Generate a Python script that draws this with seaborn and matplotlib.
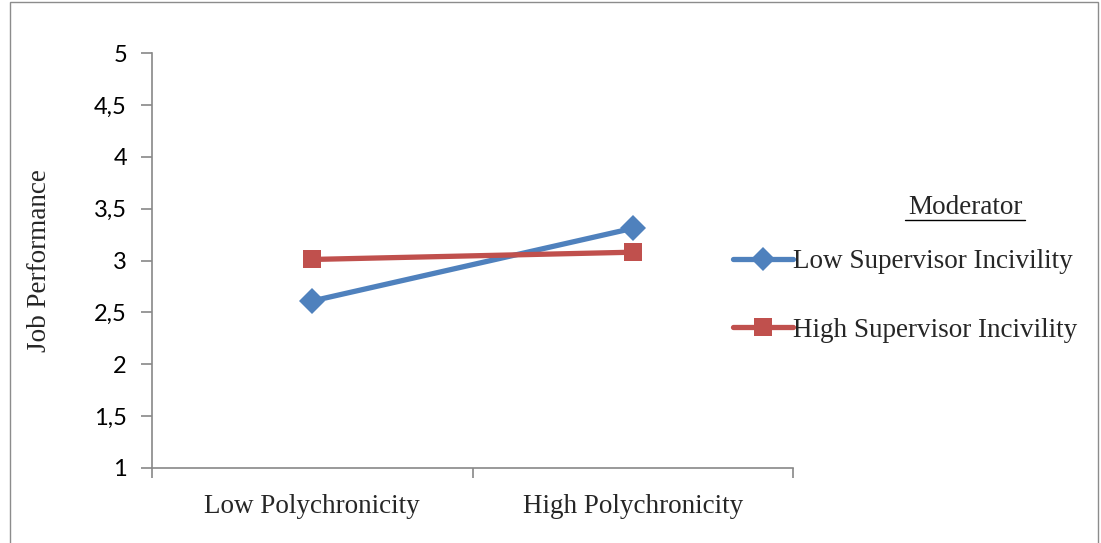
import matplotlib
matplotlib.use("Agg")
import matplotlib.pyplot as plt
import seaborn as sns
import pandas as pd
from matplotlib.lines import Line2D
from matplotlib.patches import Rectangle
from matplotlib.ticker import FixedLocator

categories = ["Low Polychronicity", "High Polychronicity"]
low_incivility = [2.61, 3.31]
high_incivility = [3.01, 3.08]
series_names = ["Low Supervisor Incivility", "High Supervisor Incivility"]
y_ticks = [1, 1.5, 2, 2.5, 3, 3.5, 4, 4.5, 5]
y_tick_labels = ["1", "1,5", "2", "2,5", "3", "3,5", "4", "4,5", "5"]

df = pd.DataFrame({
    "cat": categories * 2,
    "val": low_incivility + high_incivility,
    "series": [series_names[0]] * 2 + [series_names[1]] * 2,
})

sns.set_style("white")
serif = ["Liberation Serif", "DejaVu Serif"]
sans = ["Lato", "DejaVu Sans"]
fs = 19.5

fig = plt.figure(figsize=(11.01, 5.43), dpi=100)
ax = fig.add_axes([152/1101, 1-468/543, (793-152)/1101, (468-53)/543])

blue = "#4F81BD"
red = "#C0504D"
sns.lineplot(data=df, x="cat", y="val", hue="series", style="series",
             palette=[blue, red], markers=["D", "s"], dashes=False,
             markersize=13, linewidth=3.8, markeredgewidth=0,
             ax=ax, sort=False, legend=False)

ax.set_xlim(-0.5, 1.5)
ax.set_ylim(1, 5)
ax.set_yticks(y_ticks)
ax.set_yticklabels(y_tick_labels, fontfamily=sans, fontsize=17)
ax.set_xticks([0, 1])
ax.set_xticklabels(categories, fontfamily=serif, fontsize=fs)
ax.xaxis.set_minor_locator(FixedLocator([-0.5, 0.5, 1.5]))
ax.tick_params(axis="x", which="major", bottom=True, length=0, pad=19)
ax.tick_params(axis="x", which="minor", bottom=True, length=7, width=1.2, color="#888888", direction="out")
ax.tick_params(axis="y", which="major", left=True, length=8, width=1.2, color="#888888", direction="out", pad=10, labelcolor="black")
ax.set_xlabel("")
ax.set_ylabel("Job Performance", fontfamily=serif, fontsize=fs, labelpad=30)
for s in ["top", "right"]:
    ax.spines[s].set_visible(False)
for s in ["left", "bottom"]:
    ax.spines[s].set_color("#888888")
    ax.spines[s].set_linewidth(1.2)

handles = [Line2D([], [], color=blue, marker="D", markersize=12, linewidth=3.8, markeredgewidth=0),
           Line2D([], [], color=red, marker="s", markersize=13, linewidth=3.8, markeredgewidth=0)]
ax.legend(handles, series_names, loc="center left", bbox_to_anchor=(733/1101, 1-296/543),
          bbox_transform=fig.transFigure, frameon=False, prop={"family": serif, "size": fs},
          handlelength=2.2, handletextpad=0.0, labelspacing=1.6, borderaxespad=0, borderpad=0)

fig.text(965/1101, 1-208/543, "Moderator", fontfamily=serif, fontsize=fs,
         ha="center", va="center")
fig.add_artist(Line2D([905/1101, 1025/1101], [1-220/543, 1-220/543], color="black",
                      linewidth=1.0, transform=fig.transFigure))

fig.add_artist(Rectangle((10/1101, -0.05), (1098-10)/1101, 1.05 - 2/543, fill=False,
                         edgecolor="#8c8c8c", linewidth=1.0, transform=fig.transFigure))

fig.savefig("out.png", dpi=100)
